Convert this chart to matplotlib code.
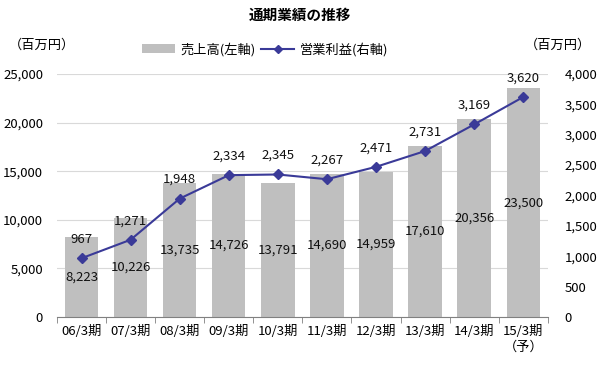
import matplotlib
matplotlib.use("Agg")
import matplotlib.pyplot as plt
from matplotlib.lines import Line2D
from matplotlib.patches import Patch
import numpy as np

plt.rcParams['font.family'] = ['Noto Sans CJK JP', 'DejaVu Sans']

categories = ["06/3期", "07/3期", "08/3期", "09/3期", "10/3期",
              "11/3期", "12/3期", "13/3期", "14/3期", "15/3期\n（予）"]
sales = [8223, 10226, 13735, 14726, 13791, 14690, 14959, 17610, 20356, 23500]
profit = [967, 1271, 1948, 2334, 2345, 2267, 2471, 2731, 3169, 3620]
left_ticks = [0, 5000, 10000, 15000, 20000, 25000]
right_ticks = [0, 500, 1000, 1500, 2000, 2500, 3000, 3500, 4000]

bar_color = "#BFBFBF"
line_color = "#3A3A98"

fig = plt.figure(figsize=(6, 3.65), dpi=100)
ax = fig.add_axes([0.095, 0.1315, 0.818, 0.666])
ax2 = ax.twinx()

x = np.arange(len(categories))
ax.bar(x, sales, width=0.68, color=bar_color, zorder=2)
ax.set_ylim(0, 25000)
ax.set_xlim(-0.5, len(categories) - 0.5)
ax.set_yticks(left_ticks)
ax.set_yticklabels([f"{v:,}" for v in left_ticks])
ax.yaxis.grid(True, color="#D9D9D9", linewidth=0.8, zorder=0)
ax.set_axisbelow(True)
for s in ["top", "left", "right"]:
    ax.spines[s].set_visible(False)
ax.spines["bottom"].set_color("#808080")
ax.tick_params(axis="y", length=0, labelsize=9.5, pad=10)
ax.set_xticks(x)
ax.set_xticklabels(categories, fontsize=9.5, linespacing=1.2, va="top")
ax.tick_params(axis="x", which="major", length=0, pad=6)
ax.set_xticks(np.arange(-0.5, len(categories), 1), minor=True)
ax.tick_params(axis="x", which="minor", length=4, color="#808080", direction="out")

for xi, v in zip(x, sales):
    ax.text(xi, v / 2, f"{v:,}", ha="center", va="center", fontsize=9.5, color="#111111", zorder=5)

ax2.plot(x, profit, color=line_color, marker="D", markersize=5, linewidth=1.5, zorder=4)
ax2.set_ylim(0, 4000)
ax2.set_yticks(right_ticks)
ax2.set_yticklabels([f"{v:,}" for v in right_ticks])
ax2.tick_params(axis="y", length=0, labelsize=9.5, pad=12)
for s in ["top", "left", "right", "bottom"]:
    ax2.spines[s].set_visible(False)

for xi, v in zip(x, profit):
    ax2.annotate(f"{v:,}", (xi, v), xytext=(0, 9), textcoords="offset points",
                 ha="center", va="bottom", fontsize=9.5, color="#111111")

fig.text(0.5, 0.958, "通期業績の推移", ha="center", va="center", fontsize=10.5, fontweight="bold")
fig.text(0.015, 0.877, "（百万円）", ha="left", va="center", fontsize=9.5)
fig.text(0.985, 0.877, "（百万円）", ha="right", va="center", fontsize=9.5)

handles = [Patch(facecolor=bar_color, edgecolor="none"),
           Line2D([0], [0], color=line_color, marker="D", markersize=4, linewidth=1.5)]
fig.legend(handles, ["売上高(左軸)", "営業利益(右軸)"], loc="center", bbox_to_anchor=(0.442, 0.865),
           ncol=2, frameon=False, fontsize=9.5, handlelength=2.5, columnspacing=0.4, handletextpad=0.4)

fig.savefig("out.png", dpi=100)
